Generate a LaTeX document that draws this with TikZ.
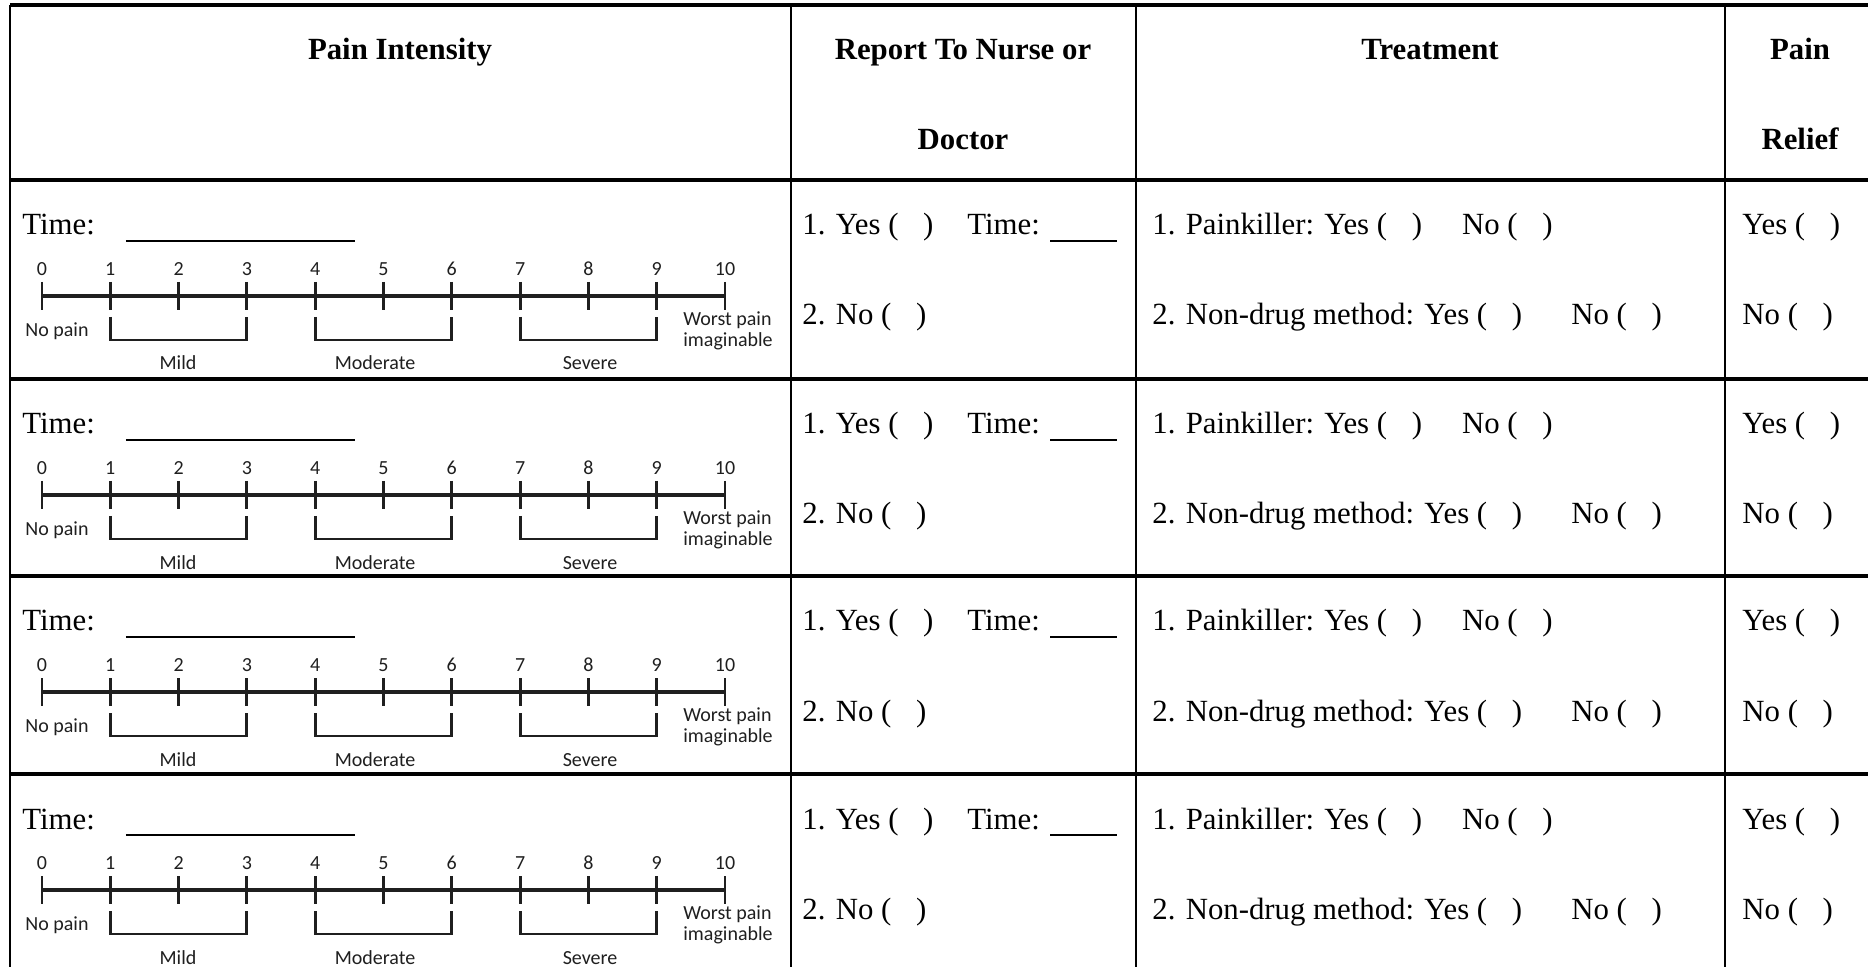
\documentclass[tikz,border=0pt]{standalone}
\usepackage{fontspec}
\setmainfont{Liberation Serif}
\newfontfamily\scalefont{Carlito}
\usetikzlibrary{positioning}

\newcommand{\optbox}{(\hspace{0.8em})}

\tikzset{
    gridh/.style={line width=1.7pt},
    gridv/.style={line width=1.1pt},
    cell/.style={anchor=base west, inner sep=0pt, font=\fontsize{15.4}{18}\selectfont},
    head/.style={anchor=base, inner sep=0pt, font=\fontsize{15.4}{18}\selectfont\bfseries},
    scaletext/.style={inner sep=0pt, text=black!88, font=\scalefont\fontsize{10}{10.5}\selectfont},
    scaleline/.style={line width=1.45pt, black!88}
}

\begin{document}
\begin{tikzpicture}[x=0.5pt, y=-0.5pt]
    \useasboundingbox (0, 0) rectangle (1868, 967);

    \foreach \yy in {5, 180, 379, 576, 774, 972}
        \draw [gridh] (10, \yy) -- (1876, \yy);
    \foreach \xx in {10, 791, 1136, 1725, 1876}
        \draw [gridv] (\xx, 5) -- (\xx, 972);

    \node (hpain) at (400, 60) [head] {Pain Intensity};
    \node (hreport) at (963, 60) [head] {Report To Nurse or};
    \node (hdoctor) at (963, 150) [head] {Doctor};
    \node (htreat) at (1430, 60) [head] {Treatment};
    \node (hpain2) at (1800, 60) [head] {Pain};
    \node (hrelief) at (1800, 150) [head] {Relief};

    \foreach \ry [count=\n] in {180, 379, 576, 774} {
        \node (time\n) at (22, {\ry+55}) [cell] {Time:\hspace{15.5pt}\rule[-3.5pt]{114.5pt}{0.8pt}};

        \draw [scaleline, line width=1.7pt] (42, {\ry+116}) -- (725, {\ry+116});
        \foreach \i in {0,...,10} {
            \draw [scaleline] ({42+68.3*\i}, {\ry+102}) -- ({42+68.3*\i}, {\ry+130});
            \node (num\n-\i) at ({42+68.3*\i}, {\ry+89}) [scaletext] {\i};
        }
        \foreach \a/\b/\lbl/\c in {1/3/Mild/178, 4/6/Moderate/375, 7/9/Severe/590} {
            \draw [scaleline] ({42+68.3*\a}, {\ry+137}) -- ({42+68.3*\a}, {\ry+160})
                -- ({42+68.3*\b}, {\ry+160}) -- ({42+68.3*\b}, {\ry+137});
            \node (\lbl\n) at (\c, {\ry+190}) [scaletext, anchor=base] {\lbl};
        }
        \node (none\n) at (25, {\ry+151}) [scaletext, anchor=west] {No pain};
        \node (worst\n) at (683, {\ry+151}) [scaletext, anchor=west, align=left] {Worst pain\\imaginable};

        \node (rep\n) at (802, {\ry+55}) [cell] {1. Yes \optbox\hspace{1.1em}Time: \rule[-3.5pt]{33.5pt}{0.8pt}};
        \node (norep\n) at (802, {\ry+145}) [cell] {2. No \optbox};

        \node (drug\n) at (1152, {\ry+55}) [cell] {1. Painkiller: Yes \optbox\hspace{1.3em}No \optbox};
        \node (nondrug\n) at (1152, {\ry+145}) [cell] {2. Non-drug method: Yes \optbox\hspace{1.6em}No \optbox};

        \node (ryes\n) at (1742, {\ry+55}) [cell] {Yes \optbox};
        \node (rno\n) at (1742, {\ry+145}) [cell] {No \optbox};
    }
\end{tikzpicture}
\end{document}
